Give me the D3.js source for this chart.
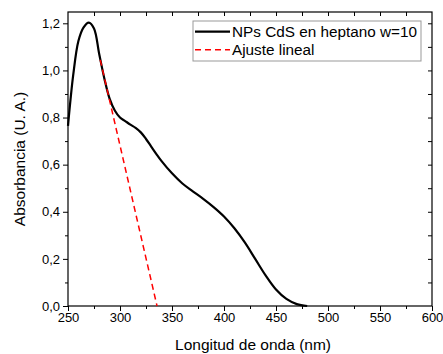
<!DOCTYPE html>
<html>
<head>
<meta charset="utf-8">
<script src="https://cdn.jsdelivr.net/npm/d3@7"></script>
<style>
  body { margin: 0; background: #fff; }
  svg { display: block; font-family: "Liberation Sans", Arial, sans-serif; }
</style>
</head>
<body>
<div id="chart"></div>
<script>
// Espectro de absorbancia
const wavelength = [250, 255, 260, 265, 270, 275, 280, 285, 290, 295, 300, 305, 310, 315, 320, 325, 330, 335, 340, 350, 360, 370, 380, 390, 400, 410, 420, 430, 440, 450, 460, 470, 480];
const absorbance = [0.765, 0.98, 1.125, 1.183, 1.203, 1.178, 1.07, 0.965, 0.88, 0.83, 0.80, 0.785, 0.77, 0.756, 0.737, 0.709, 0.677, 0.645, 0.615, 0.563, 0.52, 0.487, 0.455, 0.42, 0.38, 0.33, 0.27, 0.20, 0.13, 0.07, 0.03, 0.008, 0.0];

// Ajuste lineal
const fitX = [281, 335.6];
const fitY = [1.045, 0.0];

const xTicks = [250, 300, 350, 400, 450, 500, 550, 600];
const yTicks = [0, 0.2, 0.4, 0.6, 0.8, 1.0, 1.2];
const seriesNames = ["NPs CdS en heptano w=10", "Ajuste lineal"];

const margin = { top: 12, right: 11, bottom: 48, left: 68 };
const width = 443 - margin.left - margin.right;
const height = 354 - margin.top - margin.bottom;

const x = d3.scaleLinear().domain([250, 600]).range([0, width]);
const y = d3.scaleLinear().domain([0, 1.248]).range([height, 0]);

const fmt = d => d3.format(".1f")(d).replace(".", ",");

const svg = d3.select("#chart")
    .append("svg")
    .attr("width", 443)
    .attr("height", 354)
    .append("g")
    .attr("transform", `translate(${margin.left},${margin.top})`);

// minor ticks
const xMinor = d3.range(275, 600, 50);
const yMinor = d3.range(0.1, 1.25, 0.2);

// bottom axis
svg.append("g")
    .attr("transform", `translate(0,${height})`)
    .call(d3.axisBottom(x).tickValues(xTicks).tickSize(5).tickPadding(2).tickFormat(d3.format("d")))
    .call(g => g.select(".domain").remove())
    .selectAll("text")
    .style("font-size", "13px")
    .attr("fill", "#000");

svg.append("g")
    .attr("transform", `translate(0,${height})`)
    .call(d3.axisBottom(x).tickValues(xMinor).tickSize(3).tickFormat(""))
    .call(g => g.select(".domain").remove());

// left axis
svg.append("g")
    .call(d3.axisLeft(y).tickValues(yTicks).tickSize(5).tickPadding(3).tickFormat(fmt))
    .call(g => g.select(".domain").remove())
    .selectAll("text")
    .style("font-size", "13px")
    .attr("fill", "#000");

svg.append("g")
    .call(d3.axisLeft(y).tickValues(yMinor).tickSize(3).tickFormat(""))
    .call(g => g.select(".domain").remove());

// top axis (ticks inside)
svg.append("g")
    .call(d3.axisTop(x).tickValues(d3.range(275, 600, 25)).tickSize(-4).tickFormat(""))
    .call(g => g.select(".domain").remove());

// right axis (ticks inside)
svg.append("g")
    .attr("transform", `translate(${width},0)`)
    .call(d3.axisRight(y).tickValues(d3.range(0.1, 1.25, 0.1)).tickSize(-4).tickFormat(""))
    .call(g => g.select(".domain").remove());

// frame
svg.append("rect")
    .attr("x", 0)
    .attr("y", 0)
    .attr("width", width)
    .attr("height", height)
    .attr("fill", "none")
    .attr("stroke", "#000")
    .attr("stroke-width", 1.2);

// curve
const spectrum = wavelength.map((w, i) => ({ w: w, a: absorbance[i] }));
const fit = fitX.map((w, i) => ({ w: w, a: fitY[i] }));

const line = d3.line()
    .x(d => x(d.w))
    .y(d => y(d.a))
    .curve(d3.curveCatmullRom.alpha(0.5));

svg.append("path")
    .datum(spectrum)
    .attr("d", line)
    .attr("fill", "none")
    .attr("stroke", "#000")
    .attr("stroke-width", 2.2);

svg.append("path")
    .datum(fit)
    .attr("d", d3.line().x(d => x(d.w)).y(d => y(d.a)))
    .attr("fill", "none")
    .attr("stroke", "#ff0000")
    .attr("stroke-width", 1.5)
    .attr("stroke-dasharray", "6,4");

// legend
const legend = svg.append("g").attr("transform", "translate(125,9)");
legend.append("rect")
    .attr("width", 228)
    .attr("height", 40)
    .attr("fill", "#fff")
    .attr("stroke", "#999")
    .attr("stroke-width", 1);

const styles = [
    { color: "#000", width: 2.2, dash: null },
    { color: "#ff0000", width: 1.5, dash: "6,4" }
];
seriesNames.forEach((name, i) => {
    const ly = 10.7 + i * 18;
    legend.append("line")
        .attr("x1", 2)
        .attr("x2", 37)
        .attr("y1", ly)
        .attr("y2", ly)
        .attr("stroke", styles[i].color)
        .attr("stroke-width", styles[i].width)
        .attr("stroke-dasharray", styles[i].dash);
    legend.append("text")
        .attr("x", 39)
        .attr("y", ly + 5.5)
        .style("font-size", "15.3px")
        .text(name);
});

// axis titles
svg.append("text")
    .attr("x", width / 2 + 3)
    .attr("y", height + 44)
    .attr("text-anchor", "middle")
    .style("font-size", "15.5px")
    .text("Longitud de onda (nm)");

svg.append("text")
    .attr("transform", `translate(${-43},${height / 2}) rotate(-90)`)
    .attr("text-anchor", "middle")
    .style("font-size", "15.5px")
    .text("Absorbancia (U. A.)");
</script>
</body>
</html>
